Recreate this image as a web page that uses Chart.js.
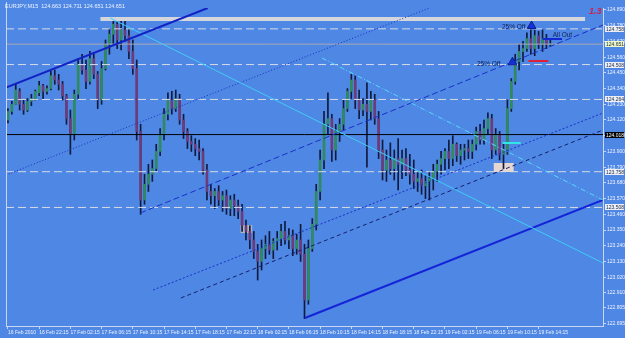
<!DOCTYPE html>
<html>
<head>
<meta charset="utf-8">
<script src="https://cdn.jsdelivr.net/npm/chart.js@4"></script>
<style>
  html, body { margin: 0; padding: 0; background: #4f87e4; }
  canvas { display: block; }
</style>
</head>
<body>
<canvas id="chart" width="625" height="338"></canvas>
<script>
// EURJPY M15 - candles, levels and hand drawn trend lines

const timeLabels = ['16 Feb 2010', '16 Feb 22:15', '17 Feb 02:15', '17 Feb 06:15', '17 Feb 10:15',
  '17 Feb 14:15', '17 Feb 18:15', '17 Feb 22:15', '18 Feb 02:15', '18 Feb 06:15', '18 Feb 10:15',
  '18 Feb 14:15', '18 Feb 18:15', '18 Feb 22:15', '19 Feb 02:15', '19 Feb 06:15', '19 Feb 10:15',
  '19 Feb 14:15'];

const opens = [
  124.12, 124.18, 124.23, 124.32, 124.23, 124.19, 124.25, 124.27, 124.31, 124.36,
  124.32, 124.34, 124.43, 124.40, 124.37, 124.29, 124.13, 124.02, 124.30, 124.51,
  124.47, 124.39, 124.55, 124.44, 124.26, 124.48, 124.65, 124.72, 124.79, 124.68,
  124.75, 124.71, 124.60, 124.48, 124.04, 123.56, 123.67, 123.74, 123.78, 123.90,
  124.02, 124.16, 124.26, 124.20, 124.27, 124.12, 124.04, 123.97, 123.95, 123.92,
  123.90, 123.77, 123.62, 123.59, 123.62, 123.56, 123.59, 123.50, 123.56, 123.52,
  123.48, 123.38, 123.34, 123.28, 123.20, 123.13, 123.22, 123.25, 123.21, 123.27,
  123.29, 123.34, 123.28, 123.31, 123.22, 123.28, 123.18, 122.86, 123.22, 123.39,
  123.62, 123.84, 124.09, 124.13, 123.91, 124.04, 124.09, 124.20, 124.32, 124.40,
  124.26, 124.19, 124.23, 124.18, 124.26, 124.13, 123.91, 123.77, 123.84, 123.78,
  123.85, 123.81, 123.85, 123.77, 123.74, 123.69, 123.71, 123.66, 123.69, 123.71,
  123.76, 123.81, 123.85, 123.90, 123.85, 123.95, 123.87, 123.91, 123.92, 123.90,
  123.95, 124.04, 123.98, 124.06, 124.13, 123.91, 124.02, 123.88, 123.91, 124.20,
  124.39, 124.53, 124.60, 124.62, 124.69, 124.62, 124.71, 124.65, 124.69, 124.65
];
const highs = [
  124.20, 124.25, 124.37, 124.34, 124.26, 124.27, 124.30, 124.33, 124.39, 124.37,
  124.36, 124.46, 124.47, 124.44, 124.39, 124.30, 124.19, 124.33, 124.55, 124.58,
  124.54, 124.60, 124.58, 124.46, 124.53, 124.68, 124.76, 124.83, 124.82, 124.81,
  124.83, 124.76, 124.68, 124.54, 124.09, 123.74, 123.81, 123.84, 123.95, 124.06,
  124.20, 124.31, 124.32, 124.33, 124.30, 124.16, 124.06, 124.01, 123.99, 123.98,
  123.92, 123.81, 123.67, 123.64, 123.66, 123.62, 123.63, 123.59, 123.60, 123.56,
  123.53, 123.42, 123.38, 123.34, 123.25, 123.28, 123.31, 123.34, 123.29, 123.34,
  123.39, 123.41, 123.36, 123.35, 123.32, 123.39, 123.25, 123.28, 123.43, 123.67,
  123.91, 124.18, 124.31, 124.16, 124.09, 124.13, 124.26, 124.34, 124.44, 124.43,
  124.33, 124.27, 124.38, 124.32, 124.30, 124.18, 123.98, 123.91, 123.96, 123.91,
  123.99, 123.91, 123.92, 123.88, 123.84, 123.76, 123.77, 123.73, 123.76, 123.81,
  123.84, 123.90, 123.92, 123.98, 124.01, 123.96, 123.95, 123.95, 123.98, 123.98,
  124.07, 124.09, 124.12, 124.17, 124.16, 124.06, 124.04, 123.95, 124.26, 124.41,
  124.58, 124.65, 124.67, 124.73, 124.75, 124.75, 124.74, 124.75, 124.72, 124.68
];
const lows = [
  124.10, 124.16, 124.23, 124.19, 124.16, 124.18, 124.22, 124.26, 124.29, 124.27,
  124.30, 124.33, 124.37, 124.33, 124.26, 124.09, 123.88, 123.98, 124.27, 124.44,
  124.34, 124.37, 124.41, 124.20, 124.23, 124.47, 124.58, 124.65, 124.62, 124.61,
  124.67, 124.55, 124.44, 123.98, 123.46, 123.53, 123.62, 123.69, 123.76, 123.87,
  123.98, 124.12, 124.16, 124.18, 124.09, 123.99, 123.92, 123.90, 123.87, 123.84,
  123.74, 123.56, 123.53, 123.50, 123.52, 123.48, 123.46, 123.45, 123.45, 123.43,
  123.34, 123.28, 123.22, 123.15, 123.00, 123.07, 123.15, 123.18, 123.15, 123.21,
  123.24, 123.25, 123.22, 123.17, 123.18, 123.13, 122.73, 122.83, 123.20, 123.35,
  123.56, 123.78, 124.02, 123.83, 123.84, 123.97, 124.05, 124.18, 124.27, 124.20,
  124.13, 124.15, 123.79, 124.12, 124.09, 123.85, 123.70, 123.69, 123.74, 123.70,
  123.63, 123.71, 123.73, 123.67, 123.64, 123.62, 123.60, 123.57, 123.56, 123.63,
  123.69, 123.74, 123.77, 123.78, 123.80, 123.83, 123.81, 123.84, 123.85, 123.85,
  123.91, 123.95, 123.95, 124.02, 123.85, 123.88, 123.84, 123.78, 123.88, 124.18,
  124.37, 124.47, 124.53, 124.60, 124.58, 124.57, 124.62, 124.60, 124.62, 124.64
];
const closes = [
  124.18, 124.23, 124.33, 124.23, 124.19, 124.25, 124.27, 124.32, 124.36, 124.32,
  124.34, 124.43, 124.40, 124.37, 124.29, 124.13, 124.02, 124.30, 124.51, 124.47,
  124.39, 124.55, 124.44, 124.26, 124.48, 124.65, 124.72, 124.79, 124.68, 124.75,
  124.71, 124.60, 124.48, 124.04, 123.56, 123.67, 123.74, 123.78, 123.90, 124.02,
  124.16, 124.26, 124.20, 124.27, 124.12, 124.04, 123.97, 123.95, 123.92, 123.90,
  123.77, 123.62, 123.59, 123.62, 123.56, 123.59, 123.50, 123.56, 123.52, 123.48,
  123.38, 123.34, 123.28, 123.20, 123.13, 123.22, 123.25, 123.21, 123.27, 123.29,
  123.34, 123.28, 123.31, 123.22, 123.28, 123.18, 122.86, 123.22, 123.39, 123.62,
  123.84, 124.09, 124.13, 123.91, 124.04, 124.09, 124.20, 124.32, 124.40, 124.26,
  124.19, 124.23, 124.18, 124.26, 124.13, 123.91, 123.77, 123.84, 123.78, 123.85,
  123.81, 123.85, 123.77, 123.74, 123.69, 123.71, 123.66, 123.69, 123.71, 123.76,
  123.81, 123.85, 123.90, 123.85, 123.95, 123.87, 123.91, 123.92, 123.90, 123.95,
  124.04, 123.98, 124.06, 124.13, 123.91, 124.02, 123.88, 123.91, 124.20, 124.39,
  124.53, 124.60, 124.62, 124.69, 124.62, 124.71, 124.65, 124.69, 124.65, 124.651
];

const yTicks = [124.890, 124.780, 124.670, 124.560, 124.450, 124.340, 124.230, 124.120,
  124.010, 123.900, 123.790, 123.680, 123.570, 123.460, 123.350, 123.240, 123.130,
  123.020, 122.910, 122.805, 122.695];

const dashLevels = [124.758, 124.508, 124.264, 123.758, 123.508];
const bidLevel = 124.651;
const blackLevel = 124.018;

// trend lines: [bar, price, bar, price]
const trendLines = [
  [-0.5, 124.347, 51.2, 124.904],
  [26.2, 124.834, 152.5, 123.119],
  [80.5, 124.554, 152.5, 123.560],
  [-0.5, 123.735, 108.0, 124.904],
  [33.9, 123.469, 152.5, 124.785],
  [37.2, 122.930, 152.5, 124.169],
  [44.3, 122.874, 152.5, 124.050],
  [76.1, 122.734, 152.5, 123.560],
  [23.7, 124.827, 147.9, 124.827]
];
const trendStyles = [
  { color: '#1222c4', width: 2, dash: [] },
  { color: '#3fcdf8', width: 1, dash: [] },
  { color: '#5ad8ff', width: 1, dash: [5, 2, 1, 2] },
  { color: '#1a2fc0', width: 1, dash: [1, 2] },
  { color: '#1a30c8', width: 1, dash: [6, 3] },
  { color: '#1a30c8', width: 1, dash: [2, 2] },
  { color: '#17206e', width: 1, dash: [4, 3] },
  { color: '#1424d8', width: 2, dash: [] },
  { color: '#d4d6dc', width: 4, dash: [] }
];

// arrows, notes and small markers: [bar, price]
const arrows = [[129.3, 124.524], [134.2, 124.778]];
const notes = [['25% Off', 120.2, 124.512], ['25% Off', 126.6, 124.772], ['All Out', 139.6, 124.712]];
const segments = [[137.0, 124.687, 142.0, 124.687], [133.4, 124.533, 138.5, 124.533], [126.8, 123.959, 131.4, 123.959]];
const segmentColors = ['#1428d0', '#e0203a', '#30e6e6'];
const boxes = [[124.5, 123.819, 129.6, 123.756], [59.6, 123.385, 62.6, 123.329]];
const boxColors = ['#e6d8d0', '#aeb6c8'];

const nSlots = 153;
const slotLabels = Array.from({ length: nSlots }, (_, i) =>
  (i % 8 === 0 && timeLabels[i / 8]) ? timeLabels[i / 8] : '');

const axisColor = '#c9d5f2';
const textColor = '#eef3ff';
const font5 = { family: 'Liberation Sans', size: 5 };

const lineSets = trendLines.map((t, k) => ({
  type: 'line', xAxisID: 'xl', yAxisID: 'y', order: 0,
  data: [{ x: t[0], y: t[1] }, { x: t[2], y: t[3] }],
  borderColor: trendStyles[k].color, borderWidth: trendStyles[k].width,
  borderDash: trendStyles[k].dash, pointRadius: 0, tension: 0, fill: false
}));

const levelSets = dashLevels.map(v => ({
  type: 'line', xAxisID: 'xl', yAxisID: 'y', order: 1,
  data: [{ x: -0.5, y: v }, { x: nSlots - 0.5, y: v }],
  borderColor: '#d6dbe6', borderWidth: 1, borderDash: [8, 4], pointRadius: 0, fill: false
}));
levelSets.push({
  type: 'line', xAxisID: 'xl', yAxisID: 'y', order: 1,
  data: [{ x: -0.5, y: bidLevel }, { x: nSlots - 0.5, y: bidLevel }],
  borderColor: '#a9aab2', borderWidth: 1, pointRadius: 0, fill: false
});
levelSets.push({
  type: 'line', xAxisID: 'xl', yAxisID: 'y', order: 1,
  data: [{ x: -0.5, y: blackLevel }, { x: nSlots - 0.5, y: blackLevel }],
  borderColor: '#000000', borderWidth: 1, pointRadius: 0, fill: false
});

const segmentSets = segments.map((s, k) => ({
  type: 'line', xAxisID: 'xl', yAxisID: 'y', order: 0,
  data: [{ x: s[0], y: s[1] }, { x: s[2], y: s[3] }],
  borderColor: segmentColors[k], borderWidth: 2, pointRadius: 0, fill: false
}));

const mt4Plugin = {
  id: 'mt4',
  beforeDraw(chart) {
    const c = chart.ctx;
    c.save();
    c.fillStyle = '#4f87e4';
    c.fillRect(0, 0, chart.width, chart.height);
    c.restore();
  },
  beforeDatasetsDraw(chart) {
    const c = chart.ctx, xs = chart.scales.xl, ys = chart.scales.y;
    c.save();
    boxes.forEach((b, k) => {
      const x1 = xs.getPixelForValue(b[0]), x2 = xs.getPixelForValue(b[2]);
      const y1 = ys.getPixelForValue(b[1]), y2 = ys.getPixelForValue(b[3]);
      c.fillStyle = boxColors[k];
      c.fillRect(x1, y1, x2 - x1, y2 - y1);
    });
    c.restore();
  },
  afterDatasetsDraw(chart) {
    const c = chart.ctx, xs = chart.scales.xl, ys = chart.scales.y;
    c.save();
    c.font = '6.5px "Liberation Sans"';
    c.textBaseline = 'middle';
    notes.forEach(n => {
      c.fillStyle = '#10205a';
      c.fillText(n[0], xs.getPixelForValue(n[1]), ys.getPixelForValue(n[2]));
    });
    c.restore();
  },
  afterDraw(chart) {
    const c = chart.ctx, a = chart.chartArea, ys = chart.scales.y;
    c.save();
    // left frame
    c.strokeStyle = axisColor;
    c.lineWidth = 1;
    c.beginPath();
    c.moveTo(a.left + 0.5, a.top - 6);
    c.lineTo(a.left + 0.5, a.bottom);
    c.stroke();
    // title
    c.font = '5.5px "Liberation Sans"';
    c.fillStyle = textColor;
    c.textBaseline = 'middle';
    c.fillText('EURJPY,M15  124.663 124.711 124.651 124.651', 5, 6);
    // version mark
    c.font = 'italic bold 9px "Liberation Sans"';
    c.fillStyle = '#d0204a';
    c.fillText('1.3', 589, 12);
    // price boxes on the axis
    const tags = dashLevels.map(v => [v, '#eceff5', '#1e2a48']);
    tags.push([bidLevel, '#eef7c6', '#1e2a48']);
    tags.push([blackLevel, '#000000', '#ffffff']);
    c.font = '5px "Liberation Sans"';
    tags.forEach(t => {
      const y = Math.round(ys.getPixelForValue(t[0]));
      c.fillStyle = t[1];
      c.fillRect(a.right + 2, y - 3, 19, 6);
      c.fillStyle = t[2];
      c.fillText(t[0].toFixed(3), a.right + 3, y + 0.5);
    });
    c.restore();
  }
};

new Chart(document.getElementById('chart'), {
  type: 'bar',
  data: {
    labels: slotLabels,
    datasets: [
      ...lineSets,
      ...levelSets,
      ...segmentSets,
      {
        type: 'scatter', xAxisID: 'xl', yAxisID: 'y', order: 0,
        data: arrows.map(p => ({ x: p[0], y: p[1] })),
        pointStyle: 'triangle', pointRadius: 5,
        backgroundColor: '#1430d8', borderColor: '#0c1c90', borderWidth: 1
      },
      {
        label: 'bodies', xAxisID: 'x', yAxisID: 'y', order: 2, grouped: false,
        data: opens.map((o, i) => [o, closes[i]]),
        backgroundColor: opens.map((o, i) => closes[i] >= o ? '#2f8a5c' : '#6c3c78'),
        barThickness: 2, minBarLength: 1
      },
      {
        label: 'wicks', xAxisID: 'x', yAxisID: 'y', order: 3, grouped: false,
        data: lows.map((l, i) => [l, highs[i]]),
        backgroundColor: '#101a3c',
        barThickness: 1
      }
    ]
  },
  options: {
    responsive: false,
    animation: false,
    events: [],
    layout: { padding: { left: 2, top: 8, right: 0, bottom: 0 } },
    plugins: { legend: { display: false }, tooltip: { enabled: false } },
    scales: {
      x: {
        type: 'category',
        offset: true,
        grid: {
          offset: false, drawOnChartArea: false, drawTicks: true, tickLength: 3,
          color: c => (c.tick && c.tick.label) ? axisColor : 'rgba(0,0,0,0)'
        },
        border: { color: axisColor },
        ticks: {
          autoSkip: false, maxRotation: 0, minRotation: 0, align: 'start', padding: 1,
          color: textColor, font: font5
        },
        afterFit: s => { s.height = 12; }
      },
      xl: {
        type: 'linear', display: false, offset: false,
        grid: { offset: false },
        min: -0.5, max: nSlots - 0.5
      },
      y: {
        position: 'right',
        min: 122.678,
        max: 124.904,
        afterBuildTicks: s => { s.ticks = yTicks.map(v => ({ value: v })); },
        ticks: { callback: v => v.toFixed(3), padding: 1, color: textColor, font: font5 },
        grid: { drawOnChartArea: false, tickLength: 3, color: axisColor },
        border: { color: axisColor },
        afterFit: s => { s.width = 22; }
      }
    }
  },
  plugins: [mt4Plugin]
});
</script>
</body>
</html>
